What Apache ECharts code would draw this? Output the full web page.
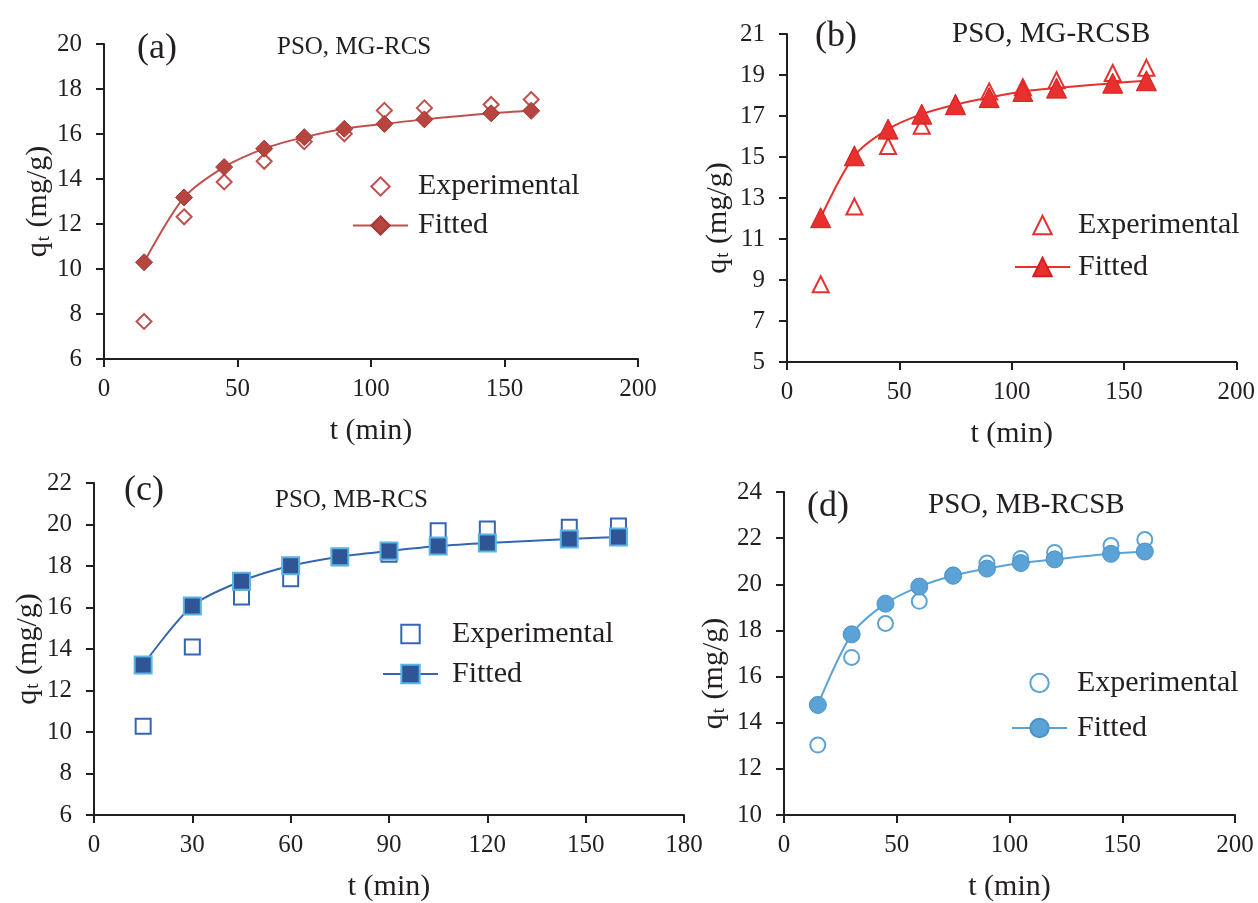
<!DOCTYPE html>
<html><head><meta charset="utf-8">
<script src="https://cdn.jsdelivr.net/npm/echarts@6/dist/echarts.min.js"></script>
<style>html,body{margin:0;padding:0;background:#fff}#c{width:1258px;height:903px}</style>
</head><body><div id="c"></div>
<script>
// ---- data ----
const times = [15, 30, 45, 60, 75, 90, 105, 120, 145, 160];
const expA = [7.67, 12.32, 13.87, 14.79, 15.66, 16.01, 17.05, 17.16, 17.31, 17.53];
const fitA = [10.30, 13.18, 14.53, 15.35, 15.86, 16.23, 16.45, 16.65, 16.92, 17.03];
const expB = [8.79, 12.58, 15.54, 16.52, 17.6, 18.2, 18.4, 18.75, 19.1, 19.35];
const fitB = [12.04, 15.06, 16.36, 17.09, 17.55, 17.9, 18.2, 18.36, 18.6, 18.72];
const expC = [10.28, 14.1, 16.51, 17.38, 18.4, 18.57, 19.7, 19.78, 19.87, 19.93];
const fitC = [13.23, 16.07, 17.27, 18.01, 18.45, 18.72, 18.96, 19.11, 19.30, 19.40];
const expD = [13.03, 16.83, 18.30, 19.26, 20.4, 20.92, 21.12, 21.38, 21.68, 21.94];
const fitD = [14.77, 17.83, 19.16, 19.90, 20.37, 20.68, 20.92, 21.08, 21.32, 21.42];

const xTicks200 = [0, 50, 100, 150, 200];
const xTicks180 = [0, 30, 60, 90, 120, 150, 180];
const yTicksA = [6, 8, 10, 12, 14, 16, 18, 20];
const yTicksB = [5, 7, 9, 11, 13, 15, 17, 19, 21];
const yTicksC = [6, 8, 10, 12, 14, 16, 18, 20, 22];
const yTicksD = [10, 12, 14, 16, 18, 20, 22, 24];

const panelLabels = ['(a)', '(b)', '(c)', '(d)'];
const panelTitles = ['PSO, MG-RCS', 'PSO, MG-RCSB', 'PSO, MB-RCS', 'PSO, MB-RCSB'];
const legendNames = ['Experimental', 'Fitted'];
const xTitle = 't (min)';

// ---- styling / layout ----
const F = "'Liberation Serif', 'Times New Roman', serif";
const TXT = '#231f20';
const AX = '#231f20';

const panels = [
  { id: 'a', exp: expA, fit: fitA, xt: xTicks200, yt: yTicksA,
    grid: { left: 104, top: 44, width: 534, height: 315 },
    color: '#C0504D', dark: '#B8443F', edge: '#A03A36', sym: 'diamond', es: 15, fs: 17, yGap: 50, yShift: 0,
    legend: { left: 347, top: 166.5, gap: 9, pad: 5 },
    label: { x: 137, y: 49, size: 36 }, title: { x: 277, y: 47, size: 25 } },
  { id: 'b', exp: expB, fit: fitB, xt: xTicks200, yt: yTicksB,
    grid: { left: 787, top: 34, width: 451, height: 328 },
    color: '#E8302E', dark: '#E8302E', edge: '#D02020', sym: 'triangle', es: 16, fs: 20, yGap: 54, yShift: 40,
    legend: { left: 1009, top: 205, gap: 12, pad: 3 },
    label: { x: 815, y: 37, size: 36 }, title: { x: 952, y: 34, size: 29 } },
  { id: 'c', exp: expC, fit: fitC, xt: xTicks180, yt: yTicksC,
    grid: { left: 94, top: 483, width: 590, height: 338 },
    color: '#3565B0', dark: '#2F5597', edge: '#5AB4E5', sym: 'rect', es: 15, fs: 17, yGap: 51, yShift: 0,
    legend: { left: 377, top: 614, gap: 10, pad: 9 },
    label: { x: 124, y: 491, size: 36 }, title: { x: 275, y: 500, size: 25 } },
  { id: 'd', exp: expD, fit: fitD, xt: xTicks200, yt: yTicksD,
    grid: { left: 784, top: 492, width: 451, height: 328 },
    color: '#5BA3D6', dark: '#5BA3D6', edge: '#4A93C8', sym: 'circle', es: 15, fs: 17, yGap: 55, yShift: 40,
    legend: { left: 1006, top: 663, gap: 15, pad: 5 },
    label: { x: 807, y: 507, size: 36 }, title: { x: 928, y: 505, size: 29 } }
];

const option = { animation: false, backgroundColor: '#fff', grid: [], xAxis: [], yAxis: [], series: [], legend: [], graphic: [] };

panels.forEach((p, i) => {
  option.grid.push(Object.assign({ containLabel: false }, p.grid));
  option.xAxis.push({
    type: 'value', gridIndex: i, min: p.xt[0], max: p.xt[p.xt.length - 1],
    name: xTitle, nameLocation: 'middle', nameGap: 57,
    nameTextStyle: { fontFamily: F, fontSize: 30, color: TXT },
    axisLine: { show: true, onZero: false, lineStyle: { color: AX, width: 2 } },
    axisTick: { show: true, inside: false, length: 8, customValues: p.xt, lineStyle: { color: AX, width: 2 } },
    axisLabel: { customValues: p.xt, margin: 18, fontFamily: F, fontSize: 25, color: TXT },
    splitLine: { show: false }
  });
  option.yAxis.push({
    type: 'value', gridIndex: i, min: p.yt[0], max: p.yt[p.yt.length - 1],
    name: '{m|q}{s|t}{m| (mg/g)}', nameLocation: 'middle', nameGap: p.yGap, nameRotate: 90,
    nameTextStyle: {
      fontFamily: F, fontSize: 30, color: TXT, padding: [0, p.yShift, 0, 0],
      rich: {
        m: { fontFamily: F, fontSize: 30, color: TXT, lineHeight: 30, verticalAlign: 'top' },
        s: { fontFamily: F, fontSize: 19, color: TXT, lineHeight: 19, verticalAlign: 'bottom', padding: [17, 1, 0, 1] }
      }
    },
    axisLine: { show: true, onZero: false, lineStyle: { color: AX, width: 2 } },
    axisTick: { show: true, inside: false, length: 8, customValues: p.yt, lineStyle: { color: AX, width: 2 } },
    axisLabel: { customValues: p.yt, margin: 22, fontFamily: F, fontSize: 25, color: TXT },
    splitLine: { show: false }
  });
  const expName = legendNames[0] + ' (' + p.id + ')';
  const fitName = legendNames[1] + ' (' + p.id + ')';
  option.series.push({
    type: 'line', name: expName, xAxisIndex: i, yAxisIndex: i,
    symbol: p.sym, symbolSize: p.es, showSymbol: true, z: 2,
    lineStyle: { width: 0, opacity: 0 },
    itemStyle: { color: '#ffffff', borderColor: p.color, borderWidth: 2, opacity: 1 },
    data: times.map((t, k) => [t, p.exp[k]])
  });
  option.series.push({
    type: 'line', name: fitName, xAxisIndex: i, yAxisIndex: i,
    symbol: p.sym, symbolSize: p.fs, showSymbol: true, smooth: 0.3, z: 3,
    lineStyle: { color: p.color, width: 2 },
    itemStyle: { color: p.dark, borderColor: p.edge, borderWidth: p.id === 'c' ? 2 : 1 },
    data: times.map((t, k) => [t, p.fit[k]])
  });
  option.legend.push({
    orient: 'vertical', left: p.legend.left, top: p.legend.top,
    itemWidth: 55, itemHeight: 23, itemGap: p.legend.gap, selectedMode: false,
    data: [expName, fitName],
    formatter: (n) => n.replace(/ \([a-d]\)$/, ''),
    textStyle: { fontFamily: F, fontSize: 30, color: TXT, padding: [0, 0, 0, p.legend.pad] }
  });
  option.graphic.push({
    type: 'text', x: p.label.x, y: p.label.y,
    style: { text: panelLabels[i], fontFamily: F, fontSize: p.label.size, fill: TXT, verticalAlign: 'middle', align: 'left' }
  });
  option.graphic.push({
    type: 'text', x: p.title.x, y: p.title.y,
    style: { text: panelTitles[i], fontFamily: F, fontSize: p.title.size, fill: TXT, verticalAlign: 'middle', align: 'left' }
  });
});

const chart = echarts.init(document.getElementById('c'), null, { renderer: 'canvas' });
chart.setOption(option);
</script>
</body></html>
